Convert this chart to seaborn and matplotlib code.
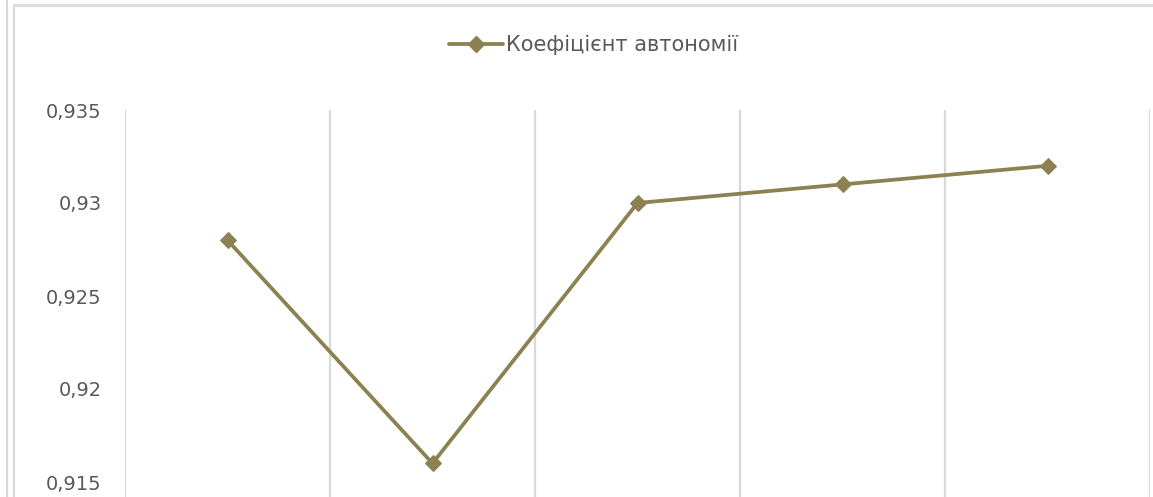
import matplotlib
matplotlib.use("Agg")
import matplotlib.pyplot as plt
import seaborn as sns
import pandas as pd
from matplotlib.lines import Line2D

categories = ["1", "2", "3", "4", "5"]
values = [0.928, 0.916, 0.930, 0.931, 0.932]
series_name = "Коефіцієнт автономії"
y_ticks = [0.915, 0.92, 0.925, 0.93, 0.935]
y_tick_labels = ["0,915", "0,92", "0,925", "0,93", "0,935"]

sns.set_theme(style="white")
plt.rcParams['font.family'] = ['DejaVu Sans']

W, H = 1153, 497
fig = plt.figure(figsize=(W / 100, H / 100), dpi=100)
ax = fig.add_axes([125 / W, 0, (1150 - 125) / W, (497 - 110) / H])

df = pd.DataFrame({"x": range(len(categories)), "v": values, "s": series_name})
color = "#8C8150"
sns.lineplot(data=df, x="x", y="v", ax=ax, color=color, linewidth=2.7,
             marker="D", markersize=8.5, markeredgecolor=color, legend=False)

ax.set_xlim(-0.5, len(categories) - 0.5)
px_per_unit = (482 - 110) / (0.935 - 0.915)
ax.set_ylim(0.935 - (497 - 110) / px_per_unit, 0.935)
ax.set_yticks(y_ticks)
ax.set_yticklabels(y_tick_labels, fontsize=14, color="#595959")
ax.tick_params(axis="y", length=0, pad=17)
ax.set_xticks([i - 0.5 for i in range(len(categories) + 1)])
ax.set_xticklabels([])
ax.tick_params(axis="x", length=0)
ax.grid(axis="x", color="#d9d9d9", linewidth=1.6)
ax.grid(axis="y", visible=False)
for sp in ax.spines.values():
    sp.set_visible(False)
ax.set_xlabel("")
ax.set_ylabel("")

handle = Line2D([], [], color=color, linewidth=2.7, marker="D", markersize=8.5)
fig.legend([handle], [series_name], loc="center", bbox_to_anchor=(593.5 / W, 1 - 45 / H),
           frameon=False, fontsize=15, labelcolor="#595959", handlelength=2.6,
           handletextpad=0.1)

# outer frame lines of the screenshot
fig.add_artist(Line2D([7 / W, 7 / W], [0, 1], color="#d9d9d9", linewidth=1.5,
                      transform=fig.transFigure))
fig.add_artist(Line2D([14 / W, 14 / W], [0, 1 - 5 / H], color="#d9d9d9", linewidth=1.5,
                      transform=fig.transFigure))
fig.add_artist(Line2D([14 / W, 1], [1 - 5 / H, 1 - 5 / H], color="#dcdcdc", linewidth=2,
                      transform=fig.transFigure))

fig.savefig("out.png", dpi=100)
